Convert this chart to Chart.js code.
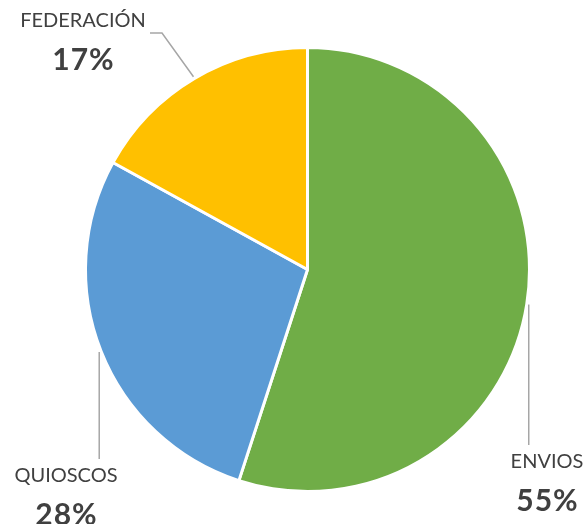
<!DOCTYPE html>
<html>
<head>
<meta charset="utf-8">
<script src="https://cdn.jsdelivr.net/npm/chart.js@4/dist/chart.umd.min.js"></script>
<style>
  html, body { margin: 0; padding: 0; background: #fff; }
  #wrap { width: 583px; height: 524px; position: relative; }
</style>
</head>
<body>
<div id="wrap"><canvas id="torta"></canvas></div>
<script>
// datos del gráfico
const categorias = ['ENVIOS', 'QUIOSCOS', 'FEDERACIÓN'];
const porcentajes = [55, 28, 17];
const colores = ['#70AD47', '#5B9BD5', '#FFC000'];

// ubicación de cada etiqueta y su línea guía
const etiquetas = [
  { x: 547, y: 462, guia: 'vertical', hastaY: 445 },
  { x: 66, y: 476, guia: 'vertical', hastaY: 459 },
  { x: 83, y: 21, guia: 'codo', codo: [162, 33], fin: [150, 33] },
];

// texto centrado con espaciado entre letras
function textoEspaciado(ctx, texto, x, y, espacio) {
  ctx.letterSpacing = espacio + 'px';
  ctx.fillText(texto, x + espacio / 2, y);
  ctx.letterSpacing = '0px';
}

const etiquetasPlugin = {
  id: 'etiquetas',
  afterDatasetsDraw(chart) {
    const ctx = chart.ctx;
    const arcos = chart.getDatasetMeta(0).data;
    ctx.save();
    arcos.forEach((arco, i) => {
      const { x, y, startAngle, endAngle, outerRadius } = arco.getProps(['x', 'y', 'startAngle', 'endAngle', 'outerRadius']);
      const medio = (startAngle + endAngle) / 2;
      const ax = x + Math.cos(medio) * (outerRadius + 2);
      const ay = y + Math.sin(medio) * (outerRadius + 2);
      const e = etiquetas[i];

      ctx.strokeStyle = '#A6A6A6';
      ctx.lineWidth = 1.5;
      ctx.beginPath();
      ctx.moveTo(ax, ay);
      if (e.guia === 'vertical') {
        ctx.lineTo(ax, e.hastaY);
      } else {
        ctx.lineTo(e.codo[0], e.codo[1]);
        ctx.lineTo(e.fin[0], e.fin[1]);
      }
      ctx.stroke();

      ctx.textAlign = 'center';
      ctx.textBaseline = 'middle';
      ctx.fillStyle = '#404040';
      ctx.font = '20px Lato';
      ctx.fillText(categorias[i], e.x, e.y);
      ctx.font = 'bold 30px Lato';
      textoEspaciado(ctx, porcentajes[i] + '%', e.x, e.y + 39, 1);
    });
    ctx.restore();
  }
};

new Chart(document.getElementById('torta'), {
  type: 'pie',
  data: {
    labels: categorias,
    datasets: [{
      data: porcentajes,
      backgroundColor: colores,
      borderColor: '#FFFFFF',
      borderWidth: 3,
    }]
  },
  options: {
    responsive: true,
    maintainAspectRatio: false,
    animation: false,
    layout: { padding: { left: 84, right: 52, top: 46, bottom: 31 } },
    plugins: {
      legend: { display: false },
      tooltip: { enabled: false },
    }
  },
  plugins: [etiquetasPlugin]
});
</script>
</body>
</html>
